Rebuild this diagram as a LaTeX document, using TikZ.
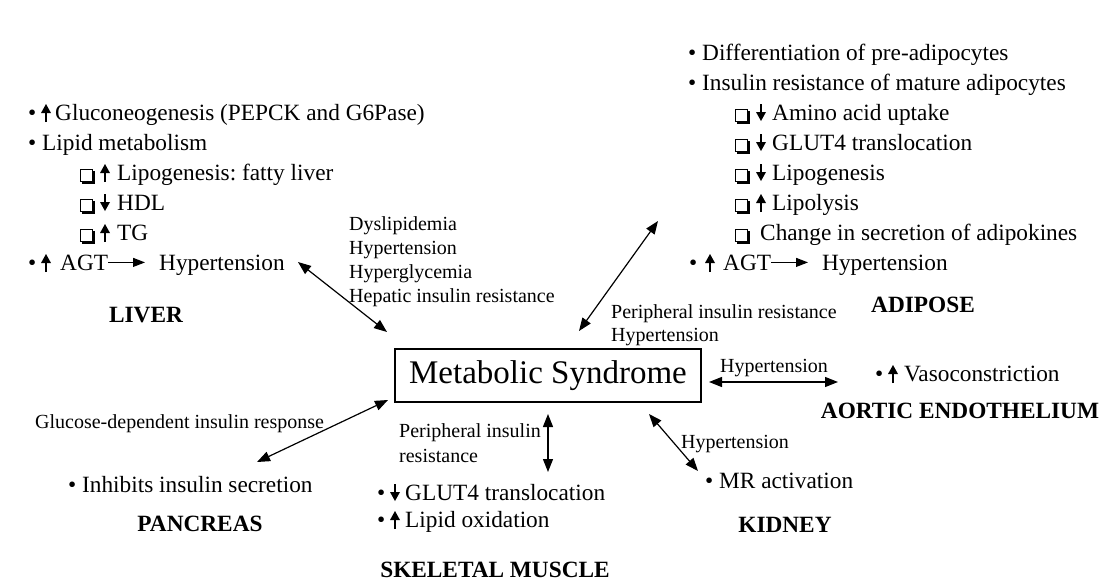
\documentclass[tikz,border=0pt]{standalone}
\usepackage{fontspec}
\setmainfont{Liberation Serif}
\usetikzlibrary{arrows.meta}
\frenchspacing
\tikzset{
  mtext/.style={anchor=base west, inner sep=0pt, font=\fontsize{23.3}{28}\selectfont},
  stext/.style={anchor=base west, inner sep=0pt, font=\fontsize{20}{24}\selectfont},
  organ/.style={anchor=base, inner sep=0pt, font=\fontsize{23.3}{28}\selectfont\bfseries},
  conn/.style={line width=1.2pt, {Triangle[length=13pt,width=10pt]}-{Triangle[length=13pt,width=10pt]}},
  agtarrow/.style={line width=1.1pt, -{Triangle[length=12pt,width=9pt]}, shorten >=14pt},
  upa/.pic={\draw[line width=1.2pt] (0,2) -- (0,-8); \fill (-5,-7) -- (0,-16) -- (5,-7) -- cycle;},
  downa/.pic={\draw[line width=1.2pt] (0,-16) -- (0,-6); \fill (-5,-8) -- (0,1) -- (5,-8) -- cycle;},
  shbox/.pic={\draw[line width=1pt] (0,1) rectangle (12,-11); \fill (2,1) rectangle (14.5,3.5); \fill (12,-9) rectangle (14.5,3.5);}
}
\begin{document}
\begin{tikzpicture}[x=1pt,y=-1pt]
\useasboundingbox (0,0) rectangle (1108,582);
\fill[white] (0,0) rectangle (1108,582);

% ---------- LIVER ----------
\node[mtext] (lb1) at (28,120) {•};
\path (46,120) pic {upa};
\node[mtext] (l1) at (55,120) {Gluconeogenesis (PEPCK and G6Pase)};
\node[mtext] (l2) at (28,150) {• Lipid metabolism};
\path (80,180) pic {shbox}; \path (105,180) pic {upa};
\node[mtext] (l3) at (117,180) {Lipogenesis: fatty liver};
\path (80,210) pic {shbox}; \path (105,210) pic {downa};
\node[mtext] (l4) at (117,210) {HDL};
\path (80,240) pic {shbox}; \path (105,240) pic {upa};
\node[mtext] (l5) at (117,240) {TG};
\node[mtext] (lb6) at (28,270) {•};
\path (46,270) pic {upa};
\node[mtext] (lagt) at (60,270) {AGT};
\node[mtext] (lhyp) at (159,270) {Hypertension};
\draw[agtarrow] (lagt.east) -- (lagt.east -| lhyp.west);
\node[organ] (liver) at (146,322.5) {LIVER};

\node[stext] (d1) at (349,230) {Dyslipidemia};
\node[stext] (d2) at (349,254) {Hypertension};
\node[stext] (d3) at (349,278) {Hyperglycemia};
\node[stext] (d4) at (349,302) {Hepatic insulin resistance};

% ---------- ADIPOSE ----------
\node[mtext] (a1) at (688,60) {• Differentiation of pre-adipocytes};
\node[mtext] (a2) at (688,90) {• Insulin resistance of mature adipocytes};
\path (735,120) pic {shbox}; \path (761,120) pic {downa};
\node[mtext] (a3) at (772,120) {Amino acid uptake};
\path (735,150) pic {shbox}; \path (761,150) pic {downa};
\node[mtext] (a4) at (772,150) {GLUT4 translocation};
\path (735,180) pic {shbox}; \path (761,180) pic {downa};
\node[mtext] (a5) at (772,180) {Lipogenesis};
\path (735,210) pic {shbox}; \path (761,210) pic {upa};
\node[mtext] (a6) at (772,210) {Lipolysis};
\path (735,240) pic {shbox};
\node[mtext] (a7) at (760,240) {Change in secretion of adipokines};
\node[mtext] (ab8) at (689,270) {•};
\path (710,270) pic {upa};
\node[mtext] (aagt) at (723,270) {AGT};
\node[mtext] (ahyp) at (822,270) {Hypertension};
\draw[agtarrow] (aagt.east) -- (aagt.east -| ahyp.west);
\node[organ] (adipose) at (923,312.5) {ADIPOSE};

\node[stext] (p1) at (611,318) {Peripheral insulin resistance};
\node[stext] (p2) at (611,341) {Hypertension};

% ---------- CENTER ----------
\node[draw, line width=1.1pt, minimum width=306pt, minimum height=53pt, inner sep=0pt,
      font=\fontsize{33}{40}\selectfont] (ms) at (548,375.5) {Metabolic Syndrome};

% ---------- AORTIC ----------
\node[stext, anchor=base] (ah) at (774,372) {Hypertension};
\node[mtext] (vb) at (875,381) {•};
\path (893,381) pic {upa};
\node[mtext] (vaso) at (904,381) {Vasoconstriction};
\node[organ] (aortic) at (960,418) {AORTIC ENDOTHELIUM};

% ---------- KIDNEY ----------
\node[stext] (kh) at (681,448) {Hypertension};
\node[mtext] (mr) at (705,488) {• MR activation};
\node[organ] (kidney) at (785,532.5) {KIDNEY};

% ---------- SKELETAL MUSCLE ----------
\node[stext] (s1) at (399,437) {Peripheral insulin};
\node[stext] (s2) at (399,462) {resistance};
\node[mtext] (sb1) at (377,500) {•};
\path (395,500) pic {downa};
\node[mtext] (sm1) at (405,500) {GLUT4 translocation};
\node[mtext] (sb2) at (377,527) {•};
\path (395,527) pic {upa};
\node[mtext] (sm2) at (405,527) {Lipid oxidation};
\node[organ] (skeletal) at (495,577) {SKELETAL MUSCLE};

% ---------- PANCREAS ----------
\node[stext] (g1) at (35,428) {Glucose-dependent insulin response};
\node[mtext] (inh) at (68,492) {• Inhibits insulin secretion};
\node[organ] (pancreas) at (200,531.5) {PANCREAS};

% ---------- CONNECTORS ----------
\coordinate (livA) at (298,262); \coordinate (livB) at (387,332);
\coordinate (adiA) at (579,331); \coordinate (adiB) at (658,221);
\coordinate (aorA) at (709,382); \coordinate (aorB) at (838,382);
\coordinate (kidA) at (649,414); \coordinate (kidB) at (698,471);
\coordinate (skeA) at (548,414); \coordinate (skeB) at (548,472);
\coordinate (panA) at (388,400); \coordinate (panB) at (257,462);
\draw[conn] (livA) -- (livB);
\draw[conn] (adiA) -- (adiB);
\draw[conn] (aorA) -- (aorB);
\draw[conn] (kidA) -- (kidB);
\draw[conn] (skeA) -- (skeB);
\draw[conn] (panA) -- (panB);
\end{tikzpicture}
\end{document}
